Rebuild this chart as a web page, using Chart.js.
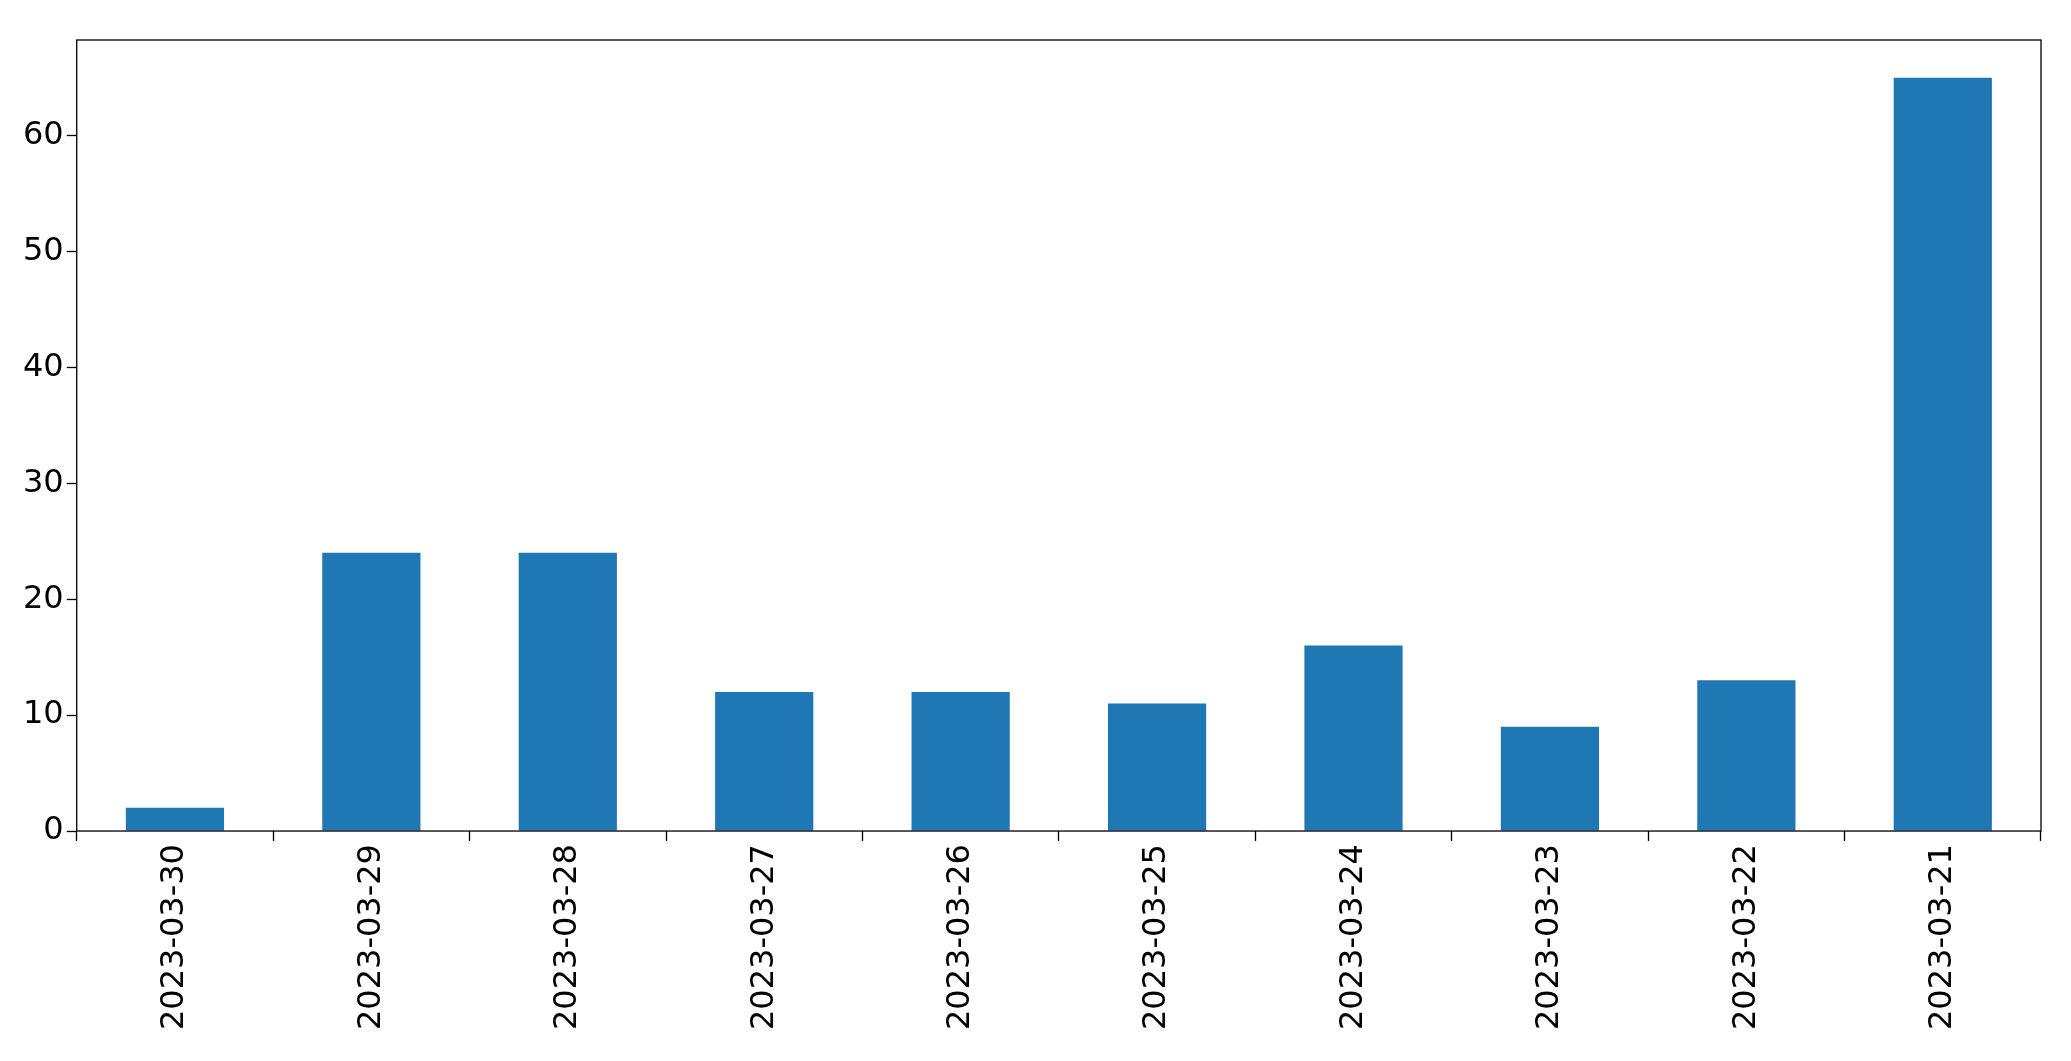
<!DOCTYPE html>
<html>
<head>
<meta charset="utf-8">
<script src="https://cdn.jsdelivr.net/npm/chart.js@4"></script>
<style>
  html, body { margin: 0; padding: 0; background: #fff; }
  #wrap { width: 2071px; height: 1061px; }
</style>
</head>
<body>
<div id="wrap"><canvas id="myChart"></canvas></div>
<script>
var dates = ['2023-03-30', '2023-03-29', '2023-03-28', '2023-03-27', '2023-03-26',
             '2023-03-25', '2023-03-24', '2023-03-23', '2023-03-22', '2023-03-21'];
var counts = [2, 24, 24, 12, 12, 11, 16, 9, 13, 65];
var yTicks = [0, 10, 20, 30, 40, 50, 60];

// box around the plot area, like matplotlib's frame
var frame = {
    id: 'frame',
    afterDraw: function (chart) {
        var a = chart.chartArea, c = chart.ctx;
        c.save();
        c.strokeStyle = '#000';
        c.lineWidth = 1.3;
        c.strokeRect(a.left, a.top, a.right - a.left, a.bottom - a.top);
        c.restore();
    }
};

var ctx = document.getElementById('myChart').getContext('2d');
var myChart = new Chart(ctx, {
    type: 'bar',
    data: {
        labels: dates,
        datasets: [{
            data: counts,
            backgroundColor: '#1f77b4',
            barPercentage: 0.5,
            categoryPercentage: 1.0
        }]
    },
    options: {
        responsive: true,
        maintainAspectRatio: false,
        animation: false,
        layout: { padding: { top: 40, right: 30, bottom: 28, left: 20 } },
        plugins: { legend: { display: false }, tooltip: { enabled: false } },
        scales: {
            x: {
                grid: { drawOnChartArea: false, color: '#000', tickLength: 10, tickWidth: 1.3 },
                border: { display: false },
                ticks: {
                    color: '#000', maxRotation: 90, minRotation: 90,
                    font: { family: 'DejaVu Sans', size: 32 }
                }
            },
            y: {
                min: 0,
                max: 68.25,
                afterBuildTicks: function (axis) {
                    axis.ticks = yTicks.map(function (v) { return { value: v }; });
                },
                grid: { drawOnChartArea: false, color: '#000', tickLength: 10, tickWidth: 1.3 },
                border: { display: false },
                ticks: {
                    color: '#000',
                    font: { family: 'DejaVu Sans', size: 32 }
                }
            }
        }
    },
    plugins: [frame]
});
</script>
</body>
</html>
